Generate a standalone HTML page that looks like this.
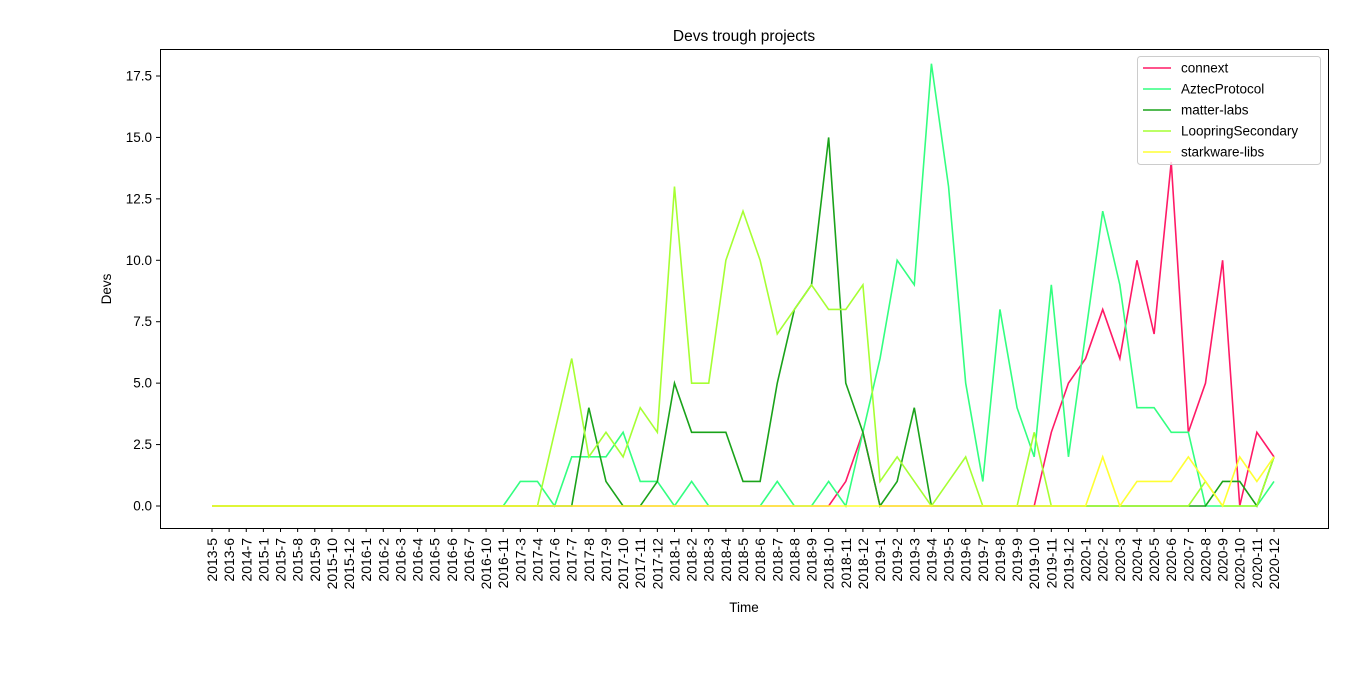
<!DOCTYPE html>
<html><head><meta charset="utf-8"><style>
body{margin:0;background:#fff;font-family:"Liberation Sans","DejaVu Sans",sans-serif;}
svg text{font-family:"Liberation Sans","DejaVu Sans",sans-serif;fill:#000;}
</style></head><body>
<svg id="chart" width="1360" height="671">
<rect width="1360" height="671" fill="#fff"/>
<text x="744" y="41" font-size="15.5" text-anchor="middle">Devs trough projects</text>
<rect x="160.5" y="49.5" width="1168" height="479" fill="none" stroke="#000" stroke-width="1"/>
<g id="yticks"></g><g id="xticks"></g><g id="lines"></g>
<text x="744" y="612" font-size="13.5" text-anchor="middle">Time</text>
<text transform="translate(111,289) rotate(-90)" font-size="13.5" text-anchor="middle">Devs</text>
<g id="legend"></g>
</svg>
<script>
const categories=["2013-5","2013-6","2014-7","2015-1","2015-7","2015-8","2015-9","2015-10","2015-12","2016-1","2016-2","2016-3","2016-4","2016-5","2016-6","2016-7","2016-10","2016-11","2017-3","2017-4","2017-6","2017-7","2017-8","2017-9","2017-10","2017-11","2017-12","2018-1","2018-2","2018-3","2018-4","2018-5","2018-6","2018-7","2018-8","2018-9","2018-10","2018-11","2018-12","2019-1","2019-2","2019-3","2019-4","2019-5","2019-6","2019-7","2019-8","2019-9","2019-10","2019-11","2019-12","2020-1","2020-2","2020-3","2020-4","2020-5","2020-6","2020-7","2020-8","2020-9","2020-10","2020-11","2020-12"];
const connext=[0,0,0,0,0,0,0,0,0,0,0,0,0,0,0,0,0,0,0,0,0,0,0,0,0,0,0,0,0,0,0,0,0,0,0,0,0,1,3,0,0,0,0,0,0,0,0,0,0,3,5,6,8,6,10,7,14,3,5,10,0,3,2];
const aztec=[0,0,0,0,0,0,0,0,0,0,0,0,0,0,0,0,0,0,1,1,0,2,2,2,3,1,1,0,1,0,0,0,0,1,0,0,1,0,3,6,10,9,18,13,5,1,8,4,2,9,2,7,12,9,4,4,3,3,0,0,0,0,1];
const matter=[0,0,0,0,0,0,0,0,0,0,0,0,0,0,0,0,0,0,0,0,0,0,4,1,0,0,1,5,3,3,3,1,1,5,8,9,15,5,3,0,1,4,0,0,0,0,0,0,0,0,0,0,0,0,0,0,0,0,0,1,1,0,2];
const loopring=[0,0,0,0,0,0,0,0,0,0,0,0,0,0,0,0,0,0,0,0,3,6,2,3,2,4,3,13,5,5,10,12,10,7,8,9,8,8,9,1,2,1,0,1,2,0,0,0,3,0,0,0,0,0,0,0,0,0,1,0,0,0,2];
const starkware=[0,0,0,0,0,0,0,0,0,0,0,0,0,0,0,0,0,0,0,0,0,0,0,0,0,0,0,0,0,0,0,0,0,0,0,0,0,0,0,0,0,0,0,0,0,0,0,0,0,0,0,0,2,0,1,1,1,2,1,0,2,1,2];
const seriesNames=["connext","AztecProtocol","matter-labs","LoopringSecondary","starkware-libs"];
const yTicks=[0,2.5,5,7.5,10,12.5,15,17.5];
const colors=["#ff1a66","#33ff80","#1aa31a","#a6ff33","#ffff33"];
const NS="http://www.w3.org/2000/svg";
const xs=i=>212+i*(1274-212)/(categories.length-1);
const ys=v=>506-v*(506-76)/17.5;
function mk(t,a,p){const e=document.createElementNS(NS,t);for(const k in a)e.setAttribute(k,a[k]);p.appendChild(e);return e;}
const yg=document.getElementById('yticks');
yTicks.forEach(v=>{
 const l=mk('line',{x1:156,x2:160,y1:ys(v),y2:ys(v),stroke:'#000'},yg);
 
 
 const t=mk('text',{x:152,y:ys(v)+4.5,'font-size':13.5,'text-anchor':'end'},yg);
 t.textContent=v.toFixed(1);
 
 
});
const xg=document.getElementById('xticks');
categories.forEach((c,i)=>{
 const x=xs(i);
 const l=mk('line',{x1:x,x2:x,y1:528,y2:532,stroke:'#000'},xg);
 
 
 const t=mk('text',{transform:`translate(${x+5},538) rotate(-90)`,'font-size':14,'text-anchor':'end'},xg);
 t.textContent=c;
 
 
});
const data=[connext,aztec,matter,loopring,starkware];
const lg=document.getElementById('lines');
data.forEach((d,s)=>{
 const p=mk('polyline',{points:d.map((v,i)=>xs(i)+','+ys(v)).join(' '),fill:'none',stroke:colors[s],'stroke-width':1.6},lg);
 
 
});
const leg=document.getElementById('legend');
mk('rect',{x:1137.5,y:56.5,width:183,height:108,rx:3,fill:'#fff','fill-opacity':0.8,stroke:'#ccc'},leg);
seriesNames.forEach((n,s)=>{
 const y=68+s*21;
 const g=mk('g',{},leg);
 
 
 mk('line',{x1:1143,x2:1171,y1:y,y2:y,stroke:colors[s],'stroke-width':1.6},g);
 const t=mk('text',{x:1181,y:y+4.5,'font-size':13.5},g);
 t.textContent=n;
});
</script>
</body></html>
